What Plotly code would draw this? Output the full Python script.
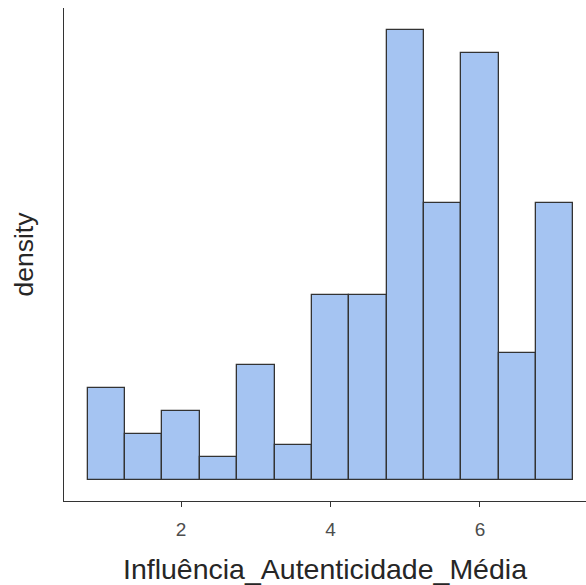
import plotly.graph_objects as go

# Histogram of Influência_Autenticidade_Média, binwidth 0.5
bin_width = 0.5
bin_starts = [0.75, 1.25, 1.75, 2.25, 2.75, 3.25, 3.75, 4.25, 4.75, 5.25, 5.75, 6.25, 6.75]
counts = [8, 4, 6, 2, 10, 3, 16, 16, 39, 24, 37, 11, 24]
x_ticks = [2, 4, 6]

n_total = sum(counts)
centers = [s + bin_width / 2 for s in bin_starts]
density = [c / (n_total * bin_width) for c in counts]

fig = go.Figure(
    go.Bar(
        x=centers,
        y=density,
        width=bin_width,
        marker=dict(color="#A5C4F2", line=dict(color="#333333", width=1.3)),
        hoverinfo="skip",
    )
)

axis_font = "Liberation Sans, Arial, sans-serif"

fig.update_layout(
    width=586,
    height=585,
    margin=dict(l=64, r=0, t=8, b=84),
    paper_bgcolor="white",
    plot_bgcolor="white",
    showlegend=False,
    bargap=0,
    font=dict(family=axis_font),
)

fig.update_xaxes(
    range=[0.432, 7.42],
    tickvals=x_ticks,
    ticktext=[str(v) for v in x_ticks],
    ticks="outside",
    ticklen=5,
    tickwidth=1.3,
    tickcolor="#333333",
    tickfont=dict(size=19, color="#4D4D4D", family=axis_font),
    ticklabelstandoff=6,
    showline=True,
    linecolor="#333333",
    linewidth=1.3,
    showgrid=False,
    zeroline=False,
    title=dict(
        text="Influência_Autenticidade_Média",
        font=dict(size=28.5, color="#262626", family=axis_font),
        standoff=21,
    ),
)

fig.update_yaxes(
    range=[-0.0182, 0.409],
    showticklabels=False,
    ticks="",
    showline=True,
    linecolor="#333333",
    linewidth=1.3,
    showgrid=False,
    zeroline=False,
    title=dict(
        text="density",
        font=dict(size=26.5, color="#262626", family=axis_font),
        standoff=21,
    ),
)

fig.write_html("out.html")
